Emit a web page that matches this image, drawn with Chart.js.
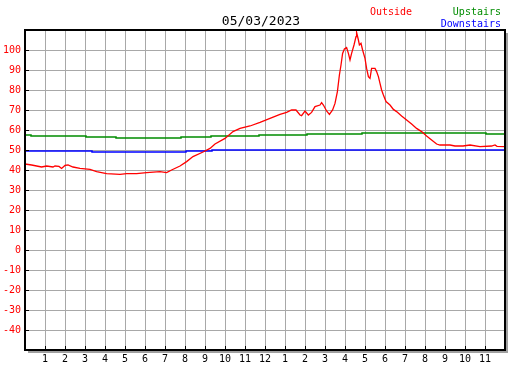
<!DOCTYPE html>
<html>
<head>
<meta charset="utf-8">
<script src="https://cdn.jsdelivr.net/npm/chart.js@4/dist/chart.umd.min.js"></script>
<style>
  html, body { margin: 0; padding: 0; background: #fff; }
</style>
</head>
<body>
<canvas id="chart" width="527" height="370"></canvas>
<script>
// hour of day (0 = midnight) for each reading
const outsideHours = [0, 0.33, 0.83, 1.08, 1.4, 1.5, 1.7, 1.83, 2.0, 2.15, 2.4, 2.75, 3.25, 3.58, 3.83, 4.08, 4.75, 5.08, 5.58, 6.08,
  6.75, 7.08, 7.33, 7.75, 8.08, 8.4, 8.9, 9.25, 9.5, 10, 10.4, 10.75, 11.25, 11.75, 12.25, 12.75, 13.08, 13.33, 13.55, 13.75,
  13.83, 14, 14.17, 14.33, 14.5, 14.75, 14.83, 14.92, 15.08, 15.22, 15.38, 15.5, 15.62, 15.72, 15.8, 15.88, 15.97, 16.08, 16.17, 16.25,
  16.33, 16.45, 16.55, 16.58, 16.67, 16.72, 16.8, 16.88, 17, 17.08, 17.17, 17.25, 17.33, 17.5, 17.58, 17.67, 17.75, 17.83, 17.92, 18.05,
  18.25, 18.42, 18.58, 18.83, 19.08, 19.33, 19.58, 19.83, 20.08, 20.33, 20.58, 20.75, 21.25, 21.5, 21.9, 22.25, 22.75, 23.33, 23.5, 23.6, 24];
const outsideTemps = [43, 42.5, 41.5, 42, 41.5, 42, 41.8, 40.8, 42.3, 42.5, 41.5, 40.8, 40.3, 39.2, 38.7, 38.2, 37.8, 38.2, 38.2, 38.7,
  39.2, 38.7, 40, 42, 44.2, 46.7, 49, 50.8, 53, 55.8, 59.2, 60.8, 62, 63.8, 65.8, 67.8, 68.8, 70, 70, 67.5,
  67.2, 69.5, 67.5, 68.8, 71.7, 72.5, 73.7, 72.5, 69.5, 67.8, 70, 73.3, 79.2, 87.5, 92.5, 98.3, 100.5, 101.2, 98.3, 95,
  98.3, 102.5, 106.7, 108.8, 105, 102.5, 103.3, 100, 95.8, 90.8, 86.7, 85.8, 90.8, 90.8, 89.2, 86.7, 83.3, 80, 77.5, 74.2,
  72.5, 70.3, 69.2, 67, 65, 63, 60.8, 59.2, 57, 55, 53, 52.5, 52.5, 52, 52, 52.5, 51.7, 52, 52.5, 51.8, 51.7];

// indoor readings change in steps: value holds from each hour until the next
const upstairsHours = [0, 0.3, 3.05, 4.55, 7.8, 9.3, 11.7, 14.1, 16.85, 23.05, 24];
const upstairsTemps = [57.5, 57, 56.5, 56, 56.5, 57, 57.5, 58, 58.5, 58, 58];
const downstairsHours = [0, 3.35, 8.05, 9.35, 24];
const downstairsTemps = [49.5, 49, 49.5, 50, 50];

const xTickLabels = ['', '1', '2', '3', '4', '5', '6', '7', '8', '9', '10', '11', '12',
  '1', '2', '3', '4', '5', '6', '7', '8', '9', '10', '11', ''];
const yMin = -50, yMax = 110, yStep = 10;

const chartTitle = '05/03/2023';
const seriesNames = ['Outside', 'Upstairs', 'Downstairs'];
const seriesColors = ['#ff0000', '#008c00', '#0000ff'];

const mono = 'DejaVu Sans Mono';

function points(xs, ys) {
  return xs.map((x, i) => ({ x: x, y: ys[i] }));
}

const framePlugin = {
  id: 'frame',
  afterDatasetsDraw(chart) {
    const { ctx, chartArea: a, scales } = chart;
    ctx.save();
    // drop shadow
    ctx.fillStyle = '#a0a0a0';
    ctx.fillRect(a.right + 1, a.top + 3, 2, a.bottom - a.top);
    ctx.fillRect(a.left + 3, a.bottom + 1, a.right - a.left, 2);
    // border
    ctx.strokeStyle = '#000';
    ctx.lineWidth = 2;
    ctx.strokeRect(a.left, a.top, a.right - a.left, a.bottom - a.top);
    // small inner tick marks
    ctx.lineWidth = 1;
    ctx.beginPath();
    scales.y.ticks.forEach(t => {
      const y = Math.round(scales.y.getPixelForValue(t.value)) + 0.5;
      ctx.moveTo(a.left, y); ctx.lineTo(a.left + 4, y);
    });
    scales.x.ticks.forEach(t => {
      const x = Math.round(scales.x.getPixelForValue(t.value)) + 0.5;
      ctx.moveTo(x, a.bottom); ctx.lineTo(x, a.bottom - 4);
    });
    ctx.stroke();

    // title and legend
    ctx.textBaseline = 'alphabetic';
    ctx.font = '13px "' + mono + '"';
    ctx.fillStyle = '#000';
    ctx.textAlign = 'center';
    ctx.fillText(chartTitle, 261, 25);
    ctx.font = '10px "' + mono + '"';
    ctx.textAlign = 'left';
    ctx.fillStyle = seriesColors[0];
    ctx.fillText(seriesNames[0], 370, 15);
    ctx.textAlign = 'right';
    ctx.fillStyle = seriesColors[1];
    ctx.fillText(seriesNames[1], 501, 15);
    ctx.fillStyle = seriesColors[2];
    ctx.fillText(seriesNames[2], 501, 27);
    ctx.restore();
  }
};

new Chart(document.getElementById('chart'), {
  type: 'line',
  data: {
    datasets: [
      {
        label: seriesNames[0],
        data: points(outsideHours, outsideTemps),
        borderColor: seriesColors[0],
        borderWidth: 1.3,
        pointRadius: 0,
        tension: 0
      },
      {
        label: seriesNames[1],
        data: points(upstairsHours, upstairsTemps),
        borderColor: seriesColors[1],
        borderWidth: 1.5,
        pointRadius: 0,
        stepped: 'before'
      },
      {
        label: seriesNames[2],
        data: points(downstairsHours, downstairsTemps),
        borderColor: seriesColors[2],
        borderWidth: 1.5,
        pointRadius: 0,
        stepped: 'before'
      }
    ]
  },
  options: {
    responsive: false,
    animation: false,
    layout: { padding: { top: 30, right: 22, left: 0, bottom: 0 } },
    plugins: {
      legend: { display: false },
      tooltip: { enabled: false }
    },
    scales: {
      x: {
        type: 'linear',
        min: 0,
        max: 24,
        afterFit(scale) { scale.height = 20; },
        grid: { color: '#a8a8a8', lineWidth: 1, drawTicks: false },
        border: { display: false },
        ticks: {
          stepSize: 1,
          autoSkip: false,
          maxRotation: 0,
          padding: 3,
          color: '#000',
          font: { family: mono, size: 10 },
          callback: v => xTickLabels[v]
        }
      },
      y: {
        min: yMin,
        max: yMax,
        afterFit(scale) { scale.width = 25; },
        grid: { color: '#a8a8a8', lineWidth: 1, drawTicks: false },
        border: { display: false },
        ticks: {
          stepSize: yStep,
          padding: 4,
          color: '#ff0000',
          font: { family: mono, size: 10 },
          callback: v => (v === yMin || v === yMax) ? '' : v
        }
      }
    }
  },
  plugins: [framePlugin]
});
</script>
</body>
</html>
